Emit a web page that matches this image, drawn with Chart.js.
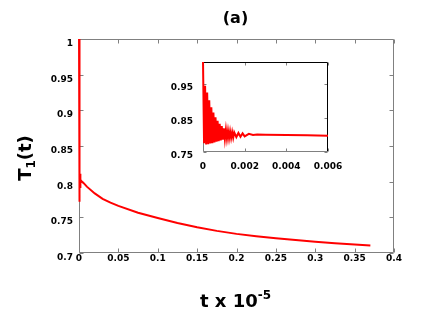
<!DOCTYPE html>
<html lang="en">
<head>
<meta charset="UTF-8">
<title>(a) T1(t)</title>
<script src="https://cdn.jsdelivr.net/npm/chart.js"></script>
<style>
  body { margin: 0; background: #fff; }
  #wrap { position: relative; width: 436px; height: 327px; }
  #mainChart { position: absolute; left: 0; top: 0; }
  #insetChart { position: absolute; left: 160px; top: 55px; }
</style>
</head>
<body>
<div id="wrap">
  <canvas id="mainChart" width="436" height="327"></canvas>
  <canvas id="insetChart" width="192" height="120"></canvas>
</div>
<script>
// early oscillation (shown in the inset, also start of main curve)
const earlyT = [0, 0.00005, 0.0001, 0.00015, 0.0002, 0.00025, 0.0003, 0.00035, 0.0004, 0.00045,
  0.0005, 0.00055, 0.0006, 0.00065, 0.0007, 0.00075, 0.0008, 0.00085, 0.0009, 0.00095,
  0.001, 0.00105, 0.0011, 0.00115, 0.0012, 0.00125, 0.0013, 0.00135, 0.0014, 0.00145,
  0.0015, 0.0016, 0.0017, 0.0018, 0.0019, 0.002, 0.0022, 0.0024, 0.0026, 0.003,
  0.004, 0.005, 0.006];
const earlyV = [1.02, 0.776, 0.945, 0.772, 0.925, 0.773, 0.902, 0.775, 0.882, 0.776,
  0.866, 0.778, 0.852, 0.780, 0.842, 0.782, 0.833, 0.784, 0.826, 0.786,
  0.820, 0.788, 0.816, 0.789, 0.813, 0.790, 0.811, 0.791, 0.809, 0.792,
  0.808, 0.794, 0.806, 0.795, 0.805, 0.796, 0.8035, 0.800, 0.8015, 0.801,
  0.800, 0.799, 0.798];
// slow decay (main plot)
const lateT = [0.01, 0.02, 0.03, 0.04, 0.05, 0.075, 0.1, 0.125, 0.15, 0.175,
  0.2, 0.225, 0.25, 0.275, 0.3, 0.325, 0.35, 0.37];
const lateV = [0.793, 0.7835, 0.776, 0.7705, 0.766, 0.7565, 0.749, 0.742, 0.736, 0.731,
  0.7268, 0.7236, 0.7208, 0.7182, 0.7158, 0.7137, 0.7118, 0.7104];

const mainXTicks = [0, 0.05, 0.1, 0.15, 0.2, 0.25, 0.3, 0.35, 0.4];
const mainYTicks = [0.7, 0.75, 0.8, 0.85, 0.9, 0.95, 1];
const insetXTicks = [0, 0.002, 0.004, 0.006];
const insetYTicks = [0.75, 0.85, 0.95];

const pts = (ts, vs) => ts.map((t, i) => ({ x: t, y: vs[i] }));
const tickFont = { family: 'DejaVu Sans', size: 9, weight: 'bold' };
const setTicks = arr => scale => { scale.ticks = arr.map(v => ({ value: v })); };
// fixed box size, and no extra room for overhanging end labels
const fitX = h => s => { s.height = h; s.paddingLeft = 0; s.paddingRight = 0; };
const fitY = w => s => { s.width = w; s.paddingTop = 0; s.paddingBottom = 0; };

// gnuplot-like frame with inward ticks on all four sides
function framePlugin(id, tickLen, col) {
  return {
    id: id,
    beforeDatasetsDraw(chart) {
      const { ctx, chartArea: a, scales: { x, y } } = chart;
      const L = Math.round(a.left) + 0.5, R = Math.round(a.right) - 0.5;
      const T = Math.round(a.top) + 0.5, B = Math.round(a.bottom) - 0.5;
      ctx.save();
      ctx.lineWidth = 1;
      ctx.strokeStyle = col.tick;
      ctx.beginPath();
      x.ticks.forEach(t => {
        const p = Math.round(x.getPixelForValue(t.value)) + 0.5;
        ctx.moveTo(p, B); ctx.lineTo(p, B - tickLen);
        ctx.moveTo(p, T); ctx.lineTo(p, T + tickLen);
      });
      y.ticks.forEach(t => {
        const p = Math.round(y.getPixelForValue(t.value)) + 0.5;
        ctx.moveTo(L, p); ctx.lineTo(L + tickLen, p);
        ctx.moveTo(R, p); ctx.lineTo(R - tickLen, p);
      });
      ctx.stroke();
      const side = (c, x1, y1, x2, y2) => {
        ctx.strokeStyle = c; ctx.beginPath(); ctx.moveTo(x1, y1); ctx.lineTo(x2, y2); ctx.stroke();
      };
      side(col.top, L, T, R, T);
      side(col.right, R, T, R, B);
      side(col.left, L, T, L, B);
      side(col.bottom, L, B, R, B);
      ctx.restore();
    }
  };
}

const titlesPlugin = {
  id: 'titles',
  afterDraw(chart) {
    const { ctx, chartArea: a } = chart;
    const cx = (a.left + a.right) / 2;
    const big = 'bold 18px "DejaVu Sans"', small = 'bold 12px "DejaVu Sans"';
    ctx.save();
    ctx.fillStyle = '#000';
    ctx.textBaseline = 'alphabetic';
    // panel label
    ctx.font = 'bold 16px "DejaVu Sans"';
    ctx.textAlign = 'center';
    ctx.fillText('(a)', cx - 1, 23);
    // x title with superscript
    ctx.textAlign = 'left';
    ctx.font = big; const w1 = ctx.measureText('t x 10').width;
    ctx.font = small; const w2 = ctx.measureText('-5').width;
    let x0 = cx - 1 - (w1 + w2) / 2;
    ctx.font = big; ctx.fillText('t x 10', x0, 306.5);
    ctx.font = small; ctx.fillText('-5', x0 + w1, 299);
    // y title with subscript, rotated
    ctx.translate(30.5, 158);
    ctx.rotate(-Math.PI / 2);
    ctx.font = big; const a1 = ctx.measureText('T').width, a3 = ctx.measureText('(t)').width;
    ctx.font = small; const a2 = ctx.measureText('1').width;
    x0 = -(a1 + a2 + a3) / 2;
    ctx.font = big; ctx.fillText('T', x0, 0);
    ctx.font = small; ctx.fillText('1', x0 + a1, 4);
    ctx.font = big; ctx.fillText('(t)', x0 + a1 + a2, 0);
    ctx.restore();
  }
};

new Chart(document.getElementById('mainChart'), {
  type: 'line',
  data: {
    datasets: [{
      data: pts(earlyT.concat(lateT), earlyV.concat(lateV)),
      borderColor: '#ff0000',
      borderWidth: 2,
      pointRadius: 0,
      tension: 0,
      clip: { left: 3, top: 0, right: 0, bottom: 0 }
    }]
  },
  options: {
    responsive: false,
    animation: false,
    layout: { padding: { top: 39, right: 42, bottom: 0, left: 0 } },
    plugins: { legend: { display: false }, tooltip: { enabled: false } },
    scales: {
      x: {
        type: 'linear', min: 0, max: 0.4,
        afterBuildTicks: setTicks(mainXTicks),
        afterFit: fitX(74),
        grid: { display: false, drawTicks: false },
        border: { display: false },
        ticks: { font: tickFont, color: '#000', padding: 0, maxRotation: 0, autoSkip: false, callback: v => String(v) }
      },
      y: {
        min: 0.7, max: 1,
        afterBuildTicks: setTicks(mainYTicks),
        afterFit: fitY(79),
        grid: { display: false, drawTicks: false },
        border: { display: false },
        ticks: { font: tickFont, color: '#000', padding: 6, labelOffset: 4.5, autoSkip: false, callback: v => String(v) }
      }
    }
  },
  plugins: [framePlugin('mainFrame', 4, { tick: '#808080', top: '#808080', right: '#808080', left: '#808080', bottom: '#808080' }), titlesPlugin]
});

new Chart(document.getElementById('insetChart'), {
  type: 'line',
  data: {
    datasets: [{
      data: pts(earlyT, earlyV),
      borderColor: '#ff0000',
      borderWidth: 2,
      pointRadius: 0,
      tension: 0,
      clip: { left: 2, top: 0, right: 0, bottom: 0 }
    }]
  },
  options: {
    responsive: false,
    animation: false,
    layout: { padding: { top: 7, right: 24, bottom: 0, left: 0 } },
    plugins: { legend: { display: false }, tooltip: { enabled: false } },
    scales: {
      x: {
        type: 'linear', min: 0, max: 0.006,
        afterBuildTicks: setTicks(insetXTicks),
        afterFit: fitX(23),
        grid: { display: false, drawTicks: false },
        border: { display: false },
        ticks: { font: tickFont, color: '#000', padding: 9, maxRotation: 0, autoSkip: false, callback: v => String(v) }
      },
      y: {
        min: 0.75, max: 1.015,
        afterBuildTicks: setTicks(insetYTicks),
        afterFit: fitY(43),
        grid: { display: false, drawTicks: false },
        border: { display: false },
        ticks: { font: tickFont, color: '#000', padding: 10, labelOffset: 4, autoSkip: false, callback: v => String(v) }
      }
    }
  },
  plugins: [framePlugin('insetFrame', 3, { tick: '#808080', top: '#000000', right: '#000000', left: '#808080', bottom: '#808080' })]
});
</script>
</body>
</html>
